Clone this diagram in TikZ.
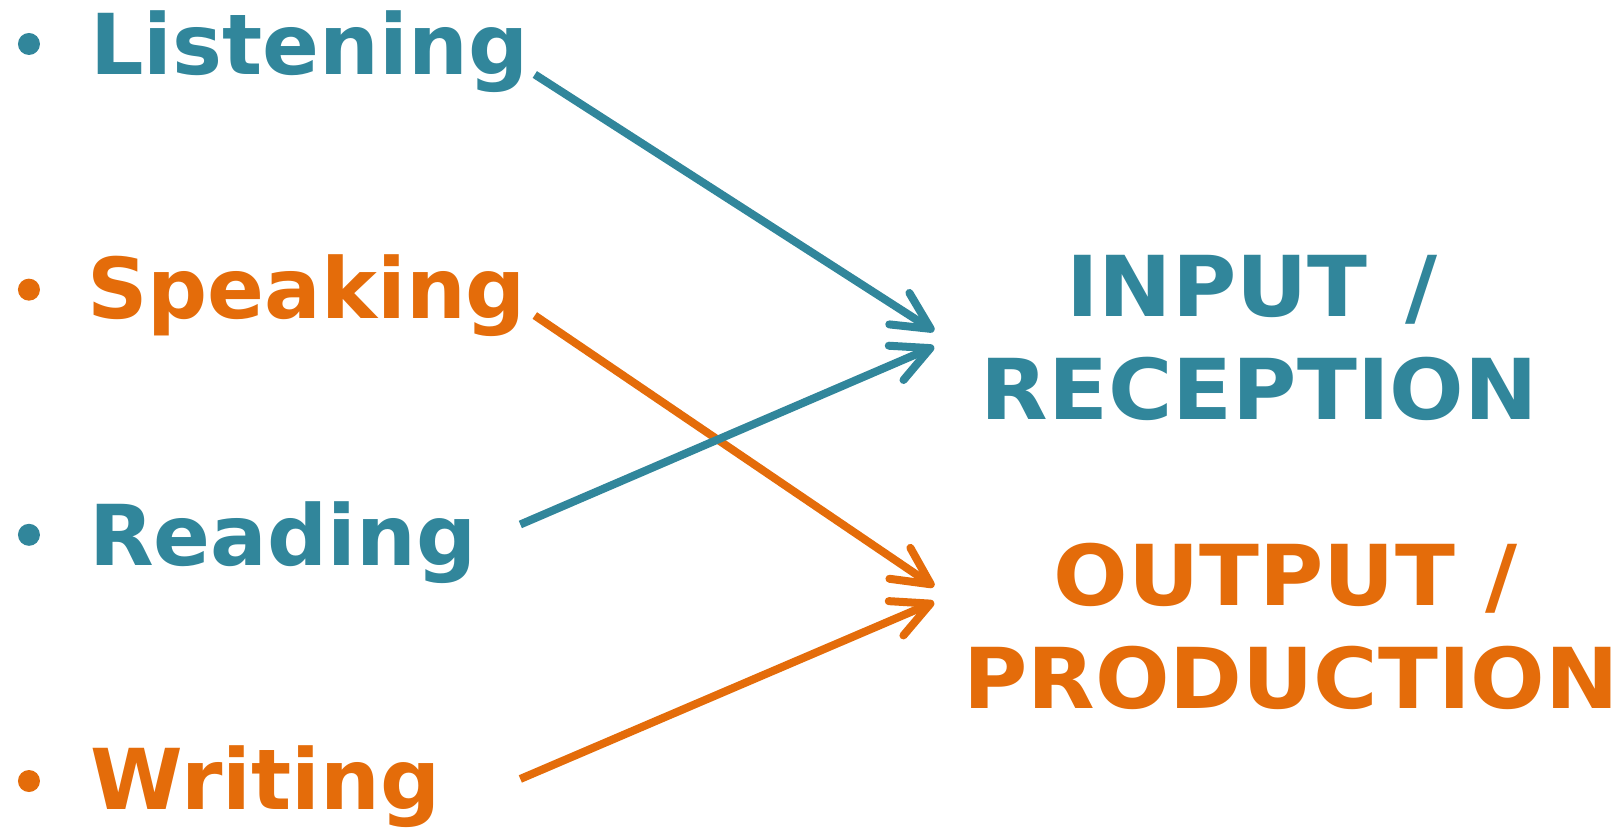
\documentclass[tikz,border=0pt]{standalone}
\usepackage{fontspec}
\setmainfont{DejaVu Sans}
\newfontfamily\capsfont{DejaVu Sans}[FakeStretch=1.045]
\usetikzlibrary{arrows.meta}
\definecolor{teal}{HTML}{31869B}
\definecolor{orng}{HTML}{E46C0A}
\begin{document}
\begin{tikzpicture}[x=0.7758pt,y=-0.7758pt,
  word/.style={inner sep=0pt,anchor=base west,font=\fontsize{63}{76}\selectfont\bfseries},
  big/.style={inner sep=0pt,anchor=base,font=\capsfont\fontsize{63}{76}\selectfont\bfseries},
  dot/.style={circle,inner sep=0pt,minimum size=16.5pt},
  conn/.style={line width=6pt,line cap=butt,-{Straight Barb[length=28pt,width=28pt,round]}}]
\path[use as bounding box] (0,0) rectangle (1568,799.5);
% bullets
\node[dot,fill=teal] (b1) at (28,42.5) {};
\node[dot,fill=orng] (b2) at (28,280) {};
\node[dot,fill=teal] (b3) at (28,517) {};
\node[dot,fill=orng] (b4) at (28,755) {};
% words
\node[word,text=teal] (listen) at (87,72) {Listening};
\node[word,text=orng] (speak) at (84,308) {Speaking};
\node[word,text=teal] (read) at (86,547) {Reading};
\node[word,text=orng] (write) at (87,783) {Writing};
% right labels
\node[big,text=teal] (in1) at (1210,306) {INPUT\hspace{0.08em} /};
\node[big,text=teal] (in2) at (1217.5,406) {RECEPTION};
\node[big,text=orng] (out1) at (1243,585) {OUTPUT /};
\node[big,text=orng] (out2) at (1248,685) {PRODUCTION};
% connector ends
\coordinate (ls) at (517,72);
\coordinate (ss) at (517,305);
\coordinate (rs) at (503,507);
\coordinate (ws) at (503,753);
\coordinate (inA) at (903,320);
\coordinate (inB) at (903,335);
\coordinate (outA) at (903,567);
\coordinate (outB) at (903,582);
\draw[conn,teal] (ls) -- (inA);
\draw[conn,orng] (ss) -- (outA);
\draw[conn,teal] (rs) -- (inB);
\draw[conn,orng] (ws) -- (outB);
\end{tikzpicture}
\end{document}
